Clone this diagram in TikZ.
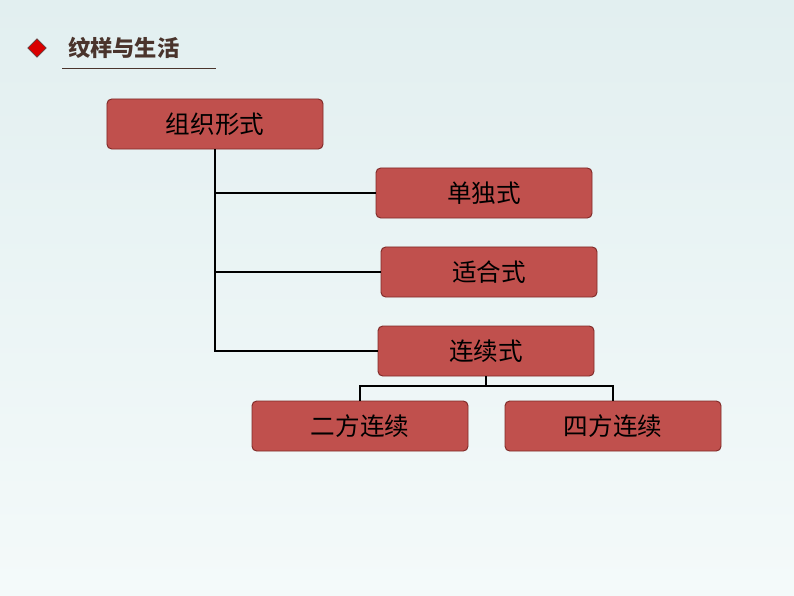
\documentclass[tikz,border=0pt]{standalone}
\usepackage{fontspec}
\usetikzlibrary{shapes.geometric}
\newfontfamily\cjk{Noto Sans CJK SC}
\definecolor{boxred}{HTML}{C0504D}
\definecolor{boxedge}{HTML}{7F2A28}
\definecolor{titlebrown}{HTML}{4A342C}
\definecolor{bgtop}{HTML}{E2EFF0}
\definecolor{bgbottom}{HTML}{F4FAFA}
\begin{document}
\begin{tikzpicture}[x=0.03cm,y=-0.03cm,
  formbox/.style={draw=boxedge, fill=boxred, rounded corners=4pt, line width=0.8pt,
    minimum width=6.48cm, minimum height=1.5cm, font=\cjk\fontsize{21}{24}\selectfont, text=black},
  link/.style={line width=1.2pt}]

%Hintergrund
\shade[top color=bgtop, bottom color=bgbottom] (0,0) rectangle (794,596);
\useasboundingbox (0,0) rectangle (794,596);

%Titel
\node[diamond, fill=red!85!black, draw=black!70, inner sep=4pt, line width=0.4pt] (mark) at (37,48) {};
\node[font=\cjk\fontsize{19}{22}\selectfont\bfseries, text=titlebrown, anchor=west] (title) at (64,48) {纹样与生活};
\draw[titlebrown, line width=0.6pt] (62,68) -- (216,68);

%Kaestchen
\node[formbox] (form) at (215,124) {组织形式};
\node[formbox] (single) at (484,193) {单独式};
\node[formbox] (fit) at (489,272) {适合式};
\node[formbox] (cont) at (486,351) {连续式};
\node[formbox] (two) at (360,426) {二方连续};
\node[formbox] (four) at (613,426) {四方连续};

%Verbindungen
\draw[link] (form.south) -- (form.south |- cont.west) -- (cont.west);
\draw[link] (form.south |- single.west) -- (single.west);
\draw[link] (form.south |- fit.west) -- (fit.west);
\coordinate (fork) at (486,386);
\draw[link] (cont.south) -- (fork);
\draw[link] (two.north) -- (two.north |- fork) -- (four.north |- fork) -- (four.north);

\end{tikzpicture}
\end{document}
